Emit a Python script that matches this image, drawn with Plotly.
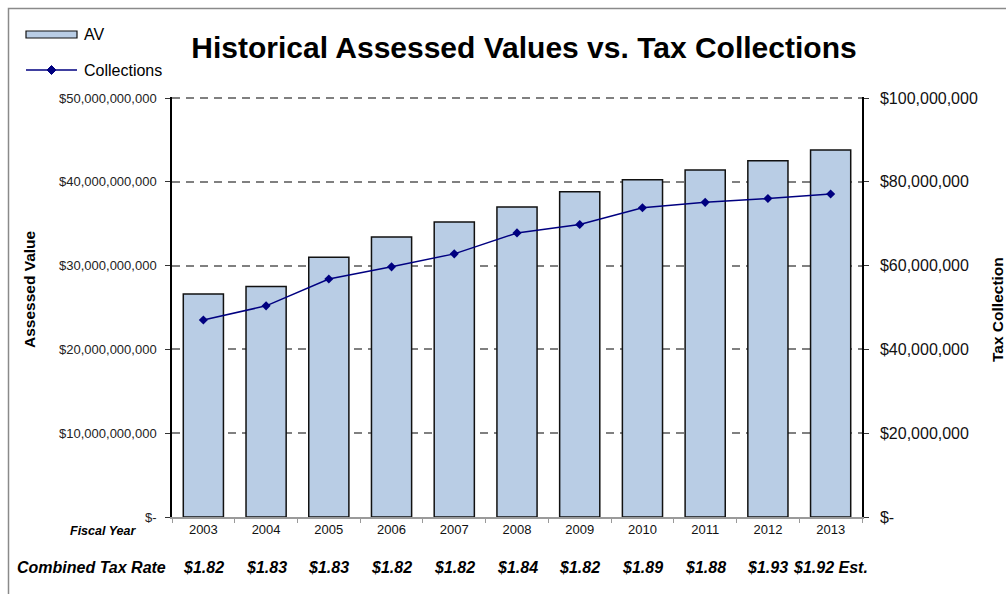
import plotly.graph_objects as go

years = ["2003", "2004", "2005", "2006", "2007", "2008", "2009", "2010", "2011", "2012", "2013"]
av_values = [26.6e9, 27.5e9, 31.0e9, 33.4e9, 35.2e9, 37.0e9, 38.8e9, 40.25e9, 41.4e9, 42.5e9, 43.8e9]
collections = [47.0e6, 50.4e6, 56.8e6, 59.7e6, 62.8e6, 67.8e6, 69.8e6, 73.8e6, 75.1e6, 76.0e6, 77.1e6]
tax_rates = ["$1.82", "$1.83", "$1.83", "$1.82", "$1.82", "$1.84", "$1.82", "$1.89", "$1.88", "$1.93", "$1.92 Est."]

left_tickvals = [0, 10e9, 20e9, 30e9, 40e9, 50e9]
left_ticktext = ["$-", "$10,000,000,000", "$20,000,000,000", "$30,000,000,000", "$40,000,000,000", "$50,000,000,000"]
right_tickvals = [0, 20e6, 40e6, 60e6, 80e6, 100e6]
right_ticktext = ["$-", "$20,000,000", "$40,000,000", "$60,000,000", "$80,000,000", "$100,000,000"]

# body margin is removed in the page, so figure fills the window exactly
OFF = 0
W, H = 1006 - OFF, 594 - OFF
L, T = 172 - OFF, 97 - OFF
PW, PH = 690, 420
R = W - L - PW
B = H - T - PH


def px(x):
    """page pixel x -> paper"""
    return (x - OFF - L) / PW


def py(y):
    """page pixel y -> paper"""
    return (T + PH - (y - OFF)) / PH


FONT = "Liberation Sans, Arial, sans-serif"
BAR_COLOR = "#B9CDE5"
LINE_COLOR = "#000080"
PAD = 1.0024  # tiny headroom so the top dashed gridline is drawn

fig = go.Figure()
fig.add_trace(go.Bar(
    x=years, y=av_values, name="AV", width=0.64,
    marker=dict(color=BAR_COLOR, line=dict(color="#111111", width=1.5)),
    showlegend=False,
))
fig.add_trace(go.Scatter(
    x=years, y=collections, name="Collections", yaxis="y2", mode="lines+markers",
    line=dict(color=LINE_COLOR, width=1.5),
    marker=dict(symbol="diamond", size=7, color=LINE_COLOR),
    showlegend=False,
))

annotations = []
for i, rate in enumerate(tax_rates):
    annotations.append(dict(x=i, xref="x", y=py(567), yref="paper", text=f"<b><i>{rate}</i></b>",
                            showarrow=False, font=dict(family=FONT, size=16, color="#000000"),
                            xanchor="center", yanchor="middle"))
annotations += [
    dict(x=px(103), y=py(531), xref="paper", yref="paper", text="<b><i>Fiscal Year</i></b>",
         showarrow=False, font=dict(family=FONT, size=12.5, color="#000000"), xanchor="center", yanchor="middle"),
    dict(x=px(91), y=py(567), xref="paper", yref="paper", text="<b><i>Combined Tax Rate</i></b>",
         showarrow=False, font=dict(family=FONT, size=16, color="#000000"), xanchor="center", yanchor="middle"),
    dict(x=px(29), y=py(289), xref="paper", yref="paper", text="<b>Assessed Value</b>", textangle=-90,
         showarrow=False, font=dict(family=FONT, size=15.5, color="#000000"), xanchor="center", yanchor="middle"),
    dict(x=px(997), y=py(310), xref="paper", yref="paper", text="<b>Tax Collection</b>", textangle=-90,
         showarrow=False, font=dict(family=FONT, size=15.5, color="#000000"), xanchor="center", yanchor="middle"),
    dict(x=px(82), y=py(34), xref="paper", yref="paper", text="AV",
         showarrow=False, font=dict(family=FONT, size=16, color="#000000"), xanchor="left", yanchor="middle"),
    dict(x=px(82), y=py(70), xref="paper", yref="paper", text="Collections",
         showarrow=False, font=dict(family=FONT, size=16, color="#000000"), xanchor="left", yanchor="middle"),
]

dx, dy = 4.5 / PW, 4.5 / PH
shapes = [
    # outer frame
    dict(type="rect", xref="paper", yref="paper", x0=px(8.5), y0=py(8.5), x1=px(1020), y1=py(610),
         line=dict(color="#8a8a8a", width=1.5), fillcolor="rgba(0,0,0,0)", layer="below"),
    # legend: AV swatch
    dict(type="rect", xref="paper", yref="paper", x0=px(26), x1=px(77), y0=py(31), y1=py(38),
         line=dict(color="#111111", width=1.2), fillcolor=BAR_COLOR),
    # legend: Collections line
    dict(type="line", xref="paper", yref="paper", x0=px(26), x1=px(77), y0=py(70), y1=py(70),
         line=dict(color=LINE_COLOR, width=1.5)),
    dict(type="path", xref="paper", yref="paper",
         path=f"M {px(51.5)-dx},{py(70)} L {px(51.5)},{py(70)+dy} L {px(51.5)+dx},{py(70)} L {px(51.5)},{py(70)-dy} Z",
         line=dict(color=LINE_COLOR, width=1), fillcolor=LINE_COLOR),
]

fig.update_layout(
    width=W, height=H,
    margin=dict(l=L, r=R, t=T, b=B, pad=0),
    paper_bgcolor="white", plot_bgcolor="white",
    font=dict(family=FONT, color="#000000"),
    title=dict(text="<b>Historical Assessed Values vs. Tax Collections</b>", x=(524 - OFF) / W, xref="container",
               y=1 - (47 - OFF) / H, yref="container", xanchor="center", yanchor="middle",
               font=dict(family=FONT, size=30, color="#000000")),
    xaxis=dict(type="category", range=[-0.5, 10.5], showline=True, linecolor="#9a9a9a", linewidth=1.5,
               ticks="outside", ticklen=4, tickcolor="#9a9a9a", tickson="boundaries",
               tickfont=dict(family=FONT, size=13, color="#111111"), showgrid=False),
    yaxis=dict(range=[0, 50e9 * PAD], tickvals=left_tickvals, ticktext=left_ticktext, showline=True,
               linecolor="#000000", linewidth=1.5, ticks="outside", ticklen=5, tickcolor="#333333",
               ticklabelstandoff=6,
               tickfont=dict(family=FONT, size=13, color="#222222"), showgrid=True, gridcolor="#808080",
               gridwidth=2, griddash="8px,6px", zeroline=False),
    yaxis2=dict(range=[0, 100e6 * PAD], overlaying="y", side="right", tickvals=right_tickvals,
                ticktext=right_ticktext, showline=True, linecolor="#000000", linewidth=1.5,
                ticks="outside", ticklen=5, tickcolor="#333333", ticklabelstandoff=8,
                tickfont=dict(family=FONT, size=16, color="#111111"), showgrid=False, zeroline=False),
    annotations=annotations,
    shapes=shapes,
)

fig.write_html(
    "out.html",
    config={"displayModeBar": False},
    post_script="document.body.style.margin='0';document.body.style.padding='0';"
                "document.documentElement.style.overflow='hidden';document.body.style.overflow='hidden';",
)
